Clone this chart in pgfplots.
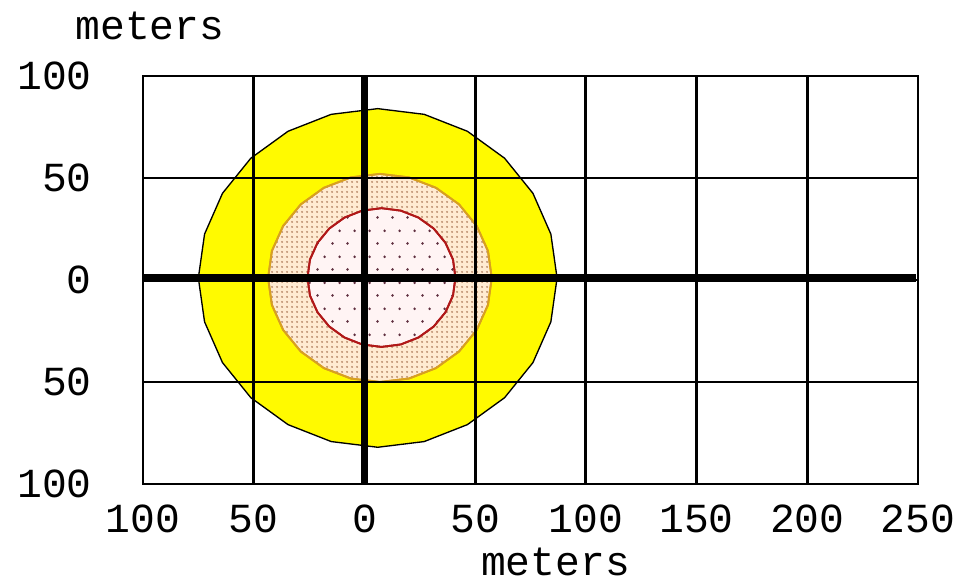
\documentclass[border=0pt]{standalone}
\usepackage{fontspec}
\setmainfont{Liberation Mono}
\usepackage{pgfplots}
\pgfplotsset{compat=1.18}
\usetikzlibrary{patterns}
\definecolor{zyellow}{HTML}{FFFA00}
\definecolor{zcream}{HTML}{FFEBD2}
\definecolor{ztan}{HTML}{B88868}
\definecolor{zorline}{HTML}{D8A020}
\definecolor{zpink}{HTML}{FFF4F4}
\definecolor{zreddot}{HTML}{603040}
\definecolor{zredline}{HTML}{B01818}
\pgfdeclarepatternformonly{densedots}{\pgfqpoint{0pt}{0pt}}{\pgfqpoint{3.75pt}{3.75pt}}{\pgfqpoint{3.75pt}{3.75pt}}{%
  \pgfpathcircle{\pgfqpoint{1.875pt}{1.875pt}}{0.95pt}\pgfusepath{fill}}
\pgfdeclarepatternformonly{sparsedots}{\pgfqpoint{0pt}{0pt}}{\pgfqpoint{11.25pt}{19.5pt}}{\pgfqpoint{11.25pt}{19.5pt}}{%
  \pgfpathcircle{\pgfqpoint{2pt}{2pt}}{1.1pt}%
  \pgfpathcircle{\pgfqpoint{7.625pt}{11.75pt}}{1.1pt}\pgfusepath{fill}}
\begin{document}
\begin{tikzpicture}
\begin{axis}[
  scale only axis, width=581.25pt, height=306pt,
  xmin=-100, xmax=250, ymin=-100, ymax=100,
  xtick={-100,-50,0,50,100,150,200,250},
  xticklabels={100,50,0,50,100,150,200,250},
  ytick={-100,-50,0,50,100},
  yticklabels={100,50,{0\hspace{7.5pt}},50,100},
  grid=major, major grid style={black, line width=2.2pt},
  axis line style={black, line width=2.2pt},
  major tick length=0pt,
  axis on top,
  tick label style={font=\fontsize{31}{31}\selectfont},
  xticklabel style={anchor=north, inner sep=0pt, yshift=-15.75pt},
  yticklabel style={anchor=east, inner sep=0pt, xshift=-38.25pt},
  xlabel={meters}, ylabel={meters},
  label style={font=\fontsize{31}{31}\selectfont},
  xlabel style={at={(axis description cs:0.5,0)}, anchor=center, xshift=18.75pt, yshift=-58.5pt},
  ylabel style={rotate=-90, at={(axis description cs:0,1)}, anchor=center, xshift=5.25pt, yshift=37.5pt},
]
\coordinate (O) at (rel axis cs:0,0);
\coordinate (T) at (rel axis cs:1,1);
% yellow zone
\addplot[fill=zyellow, draw=black, line width=1pt] coordinates {
 (87,1) (84.2,22.5) (76.1,42.5) (63.3,59.7) (46.5,72.9) (27,81.2) (6,84)
 (-15,81.2) (-34.5,72.9) (-51.3,59.7) (-64.1,42.5) (-72.2,22.5) (-75,1)
 (-72.2,-20.5) (-64.1,-40.5) (-51.3,-57.7) (-34.5,-70.9) (-15,-79.2) (6,-82)
 (27,-79.2) (46.5,-70.9) (63.3,-57.7) (76.1,-40.5) (84.2,-20.5)
} -- cycle;
% orange zone
\addplot[fill=zcream, draw=zorline, line width=1.4pt,
  postaction={pattern=densedots, pattern color=ztan}] coordinates {
 (57.5,1) (55.8,14.2) (50.7,26.5) (42.7,37.1) (32.3,45.2) (20.1,50.3) (7,52)
 (-6.1,50.3) (-18.3,45.2) (-28.7,37.1) (-36.7,26.5) (-41.8,14.2) (-43.5,1)
 (-41.8,-12.2) (-36.7,-24.5) (-28.7,-35.1) (-18.3,-43.2) (-6.1,-48.3) (7,-50)
 (20.1,-48.3) (32.3,-43.2) (42.7,-35.1) (50.7,-24.5) (55.8,-12.2)
} -- cycle;
% red zone
\addplot[fill=zpink, draw=zredline, line width=1.4pt,
  postaction={pattern=sparsedots, pattern color=zreddot}] coordinates {
 (41.1,1.2) (40,10) (36.6,18.2) (31.3,25.2) (24.4,30.6) (16.4,34) (7.7,35.2)
 (-1,34) (-9,30.6) (-15.9,25.2) (-21.2,18.2) (-24.6,10) (-25.7,1.2)
 (-24.6,-7.6) (-21.2,-15.8) (-15.9,-22.8) (-9,-28.2) (-1,-31.6) (7.7,-32.8)
 (16.4,-31.6) (24.4,-28.2) (31.3,-22.8) (36.6,-15.8) (40,-7.6)
} -- cycle;
% thick axes through the source
\addplot[black, line width=5.5pt] coordinates {(-100,1) (249,1)};
\addplot[black, line width=5.5pt] coordinates {(0,-100) (0,100)};
\end{axis}
\pgfresetboundingbox
\path ([shift={(-107.25pt,-75pt)}]O) rectangle ([shift={(36pt,57pt)}]T);
\end{tikzpicture}
\end{document}
